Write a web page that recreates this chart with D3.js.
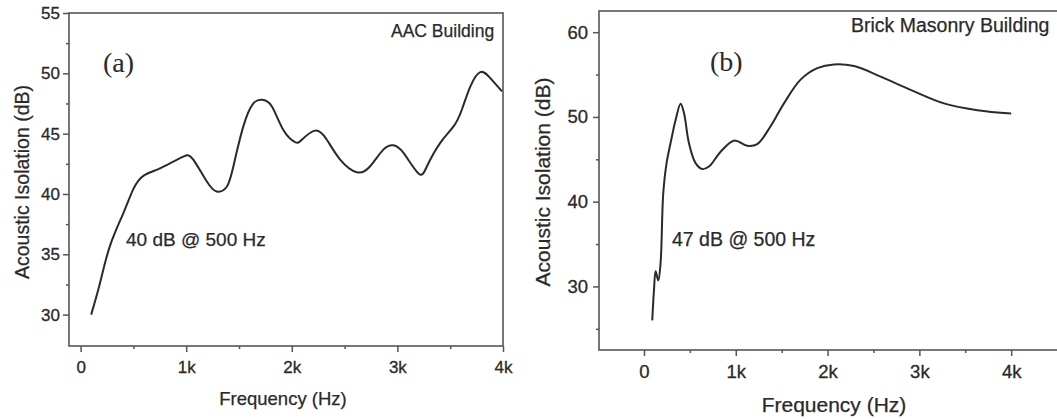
<!DOCTYPE html>
<html>
<head>
<meta charset="utf-8">
<script src="https://cdn.jsdelivr.net/npm/d3@7"></script>
<style>
  body { margin: 0; background: #fff; }
  svg { display: block; font-family: "Liberation Sans", Arial, sans-serif; }
</style>
</head>
<body>
<svg id="chart" width="1057" height="419"></svg>
<script>
// (a) AAC building
var aacFreq = [100, 183, 278, 404, 499, 594, 720, 815, 973, 1067, 1194, 1289, 1384, 1447, 1541, 1636, 1716, 1810, 1920, 2031, 2095, 2221, 2332, 2458, 2616, 2742, 2869, 2963, 3058, 3200, 3280, 3406, 3532, 3611, 3690, 3785, 3880, 3990];
var aacDb = [30.0, 32.6, 35.7, 38.4, 40.4, 41.5, 42.0, 42.4, 43.1, 42.85, 41.05, 40.2, 40.6, 42.3, 45.6, 47.5, 47.8, 47.27, 45.3, 44.3, 44.5, 45.25, 44.5, 42.85, 41.8, 42.3, 43.7, 44.04, 43.4, 41.7, 42.3, 44.24, 45.6, 47.0, 48.9, 50.1, 49.6, 48.5];

// (b) brick masonry building
var brickFreq = [90, 109, 127, 156, 181, 210, 246, 297, 345, 399, 436, 490, 562, 635, 708, 835, 980, 1125, 1234, 1379, 1525, 1706, 1888, 2070, 2288, 2578, 2904, 3268, 3631, 4000];
var brickDb = [26.0, 29.6, 31.8, 30.7, 32.8, 41.0, 44.55, 47.3, 49.66, 51.55, 50.45, 46.9, 44.55, 43.85, 44.15, 45.9, 47.2, 46.6, 46.8, 48.9, 51.6, 54.4, 55.75, 56.2, 56.0, 54.76, 53.2, 51.6, 50.8, 50.4];

var freqTicks = [0, 1000, 2000, 3000, 4000];
var freqTickLabels = ["0", "1k", "2k", "3k", "4k"];
var freqMinor = [500, 1500, 2500, 3500];
var aacTicks = [30, 35, 40, 45, 50, 55];
var aacMinor = [32.5, 37.5, 42.5, 47.5, 52.5];
var brickTicks = [30, 40, 50, 60];
var brickMinor = [25, 35, 45, 55];

var svg = d3.select("#chart");
var ink = "#2a2a2a";
var frameColor = "#555";

function panel(opt) {
  var x = d3.scaleLinear().domain(opt.xDomain).range([opt.left, opt.right]);
  var y = d3.scaleLinear().domain(opt.yDomain).range([opt.bottom, opt.top]);
  var g = svg.append("g");

  // minor ticks
  g.append("g").attr("transform", "translate(0," + opt.bottom + ")")
    .call(d3.axisBottom(x).tickValues(freqMinor).tickSize(3).tickFormat(""))
    .call(function(s) { s.select(".domain").remove(); });
  g.append("g").attr("transform", "translate(" + opt.left + ",0)")
    .call(d3.axisLeft(y).tickValues(opt.yMinor).tickSize(3).tickFormat(""))
    .call(function(s) { s.select(".domain").remove(); });

  // major ticks
  g.append("g").attr("transform", "translate(0," + opt.bottom + ")")
    .call(d3.axisBottom(x).tickValues(freqTicks).tickSize(6).tickPadding(opt.xPad)
      .tickFormat(function(d, i) { return freqTickLabels[i]; }))
    .call(function(s) { s.select(".domain").remove(); })
    .selectAll("text").attr("font-size", opt.tickFont).attr("fill", ink)
    .attr("stroke", ink).attr("stroke-width", 0.3)
    .attr("font-family", "Liberation Sans, Arial, sans-serif");
  g.append("g").attr("transform", "translate(" + opt.left + ",0)")
    .call(d3.axisLeft(y).tickValues(opt.yTicks).tickSize(6).tickPadding(opt.yPad))
    .call(function(s) { s.select(".domain").remove(); })
    .selectAll("text").attr("font-size", opt.tickFont).attr("fill", ink)
    .attr("stroke", ink).attr("stroke-width", 0.3)
    .attr("font-family", "Liberation Sans, Arial, sans-serif");

  g.selectAll(".tick line").attr("stroke", frameColor).attr("stroke-width", 1.5);

  // frame
  g.append("rect")
    .attr("x", opt.left).attr("y", opt.top)
    .attr("width", opt.right - opt.left).attr("height", opt.bottom - opt.top)
    .attr("fill", "none").attr("stroke", frameColor).attr("stroke-width", 1.6);

  // curve
  var line = d3.line()
    .x(function(d) { return x(d[0]); })
    .y(function(d) { return y(d[1]); })
    .curve(opt.curve);
  g.append("path")
    .datum(d3.zip(opt.freq, opt.db))
    .attr("d", line)
    .attr("fill", "none").attr("stroke", ink).attr("stroke-width", 2);

  // axis titles
  g.append("text")
    .attr("x", opt.xTitle[0]).attr("y", opt.xTitle[1])
    .attr("text-anchor", "middle").attr("font-size", opt.titleFont).attr("fill", ink)
    .attr("stroke", ink).attr("stroke-width", 0.25)
    .text("Frequency (Hz)");
  g.append("text")
    .attr("transform", "translate(" + opt.yTitle[0] + "," + opt.yTitle[1] + ") rotate(-90)")
    .attr("text-anchor", "middle").attr("font-size", opt.yTitleFont).attr("fill", ink)
    .attr("stroke", ink).attr("stroke-width", 0.25)
    .text("Acoustic Isolation (dB)");

  // annotations
  g.append("text")
    .attr("x", opt.name[0]).attr("y", opt.name[1])
    .attr("font-size", opt.nameFont).attr("fill", ink)
    .attr("stroke", ink).attr("stroke-width", 0.25)
    .text(opt.nameText);
  g.append("text")
    .attr("x", opt.tag[0]).attr("y", opt.tag[1])
    .attr("font-family", "Liberation Serif, Times New Roman, serif")
    .attr("font-size", 28).attr("fill", ink)
    .text(opt.tagText);
  g.append("text")
    .attr("x", opt.note[0]).attr("y", opt.note[1])
    .attr("font-size", opt.noteFont).attr("fill", ink)
    .attr("stroke", ink).attr("stroke-width", 0.25)
    .text(opt.noteText);
}

panel({
  freq: aacFreq, db: aacDb, curve: d3.curveNatural,
  xDomain: [-110, 4000], yDomain: [27.4, 55],
  left: 69, right: 503, top: 13, bottom: 346,
  yTicks: aacTicks, yMinor: aacMinor,
  tickFont: 17, xPad: 9, yPad: 3,
  xTitle: [283, 405], yTitle: [29, 182], titleFont: 18.5, yTitleFont: 19.5,
  name: [391, 37], nameText: "AAC Building", nameFont: 17.5,
  tag: [103, 72], tagText: "(a)",
  note: [126, 246], noteText: "40 dB @ 500 Hz", noteFont: 19
});

panel({
  freq: brickFreq, db: brickDb, curve: d3.curveCatmullRom.alpha(0.5),
  xDomain: [-490, 4510], yDomain: [22.5, 62.5],
  left: 599, right: 1058, top: 11, bottom: 350,
  yTicks: brickTicks, yMinor: brickMinor,
  tickFont: 18.5, xPad: 8.5, yPad: 5,
  xTitle: [834, 412], yTitle: [550, 182], titleFont: 21, yTitleFont: 21,
  name: [851, 32], nameText: "Brick Masonry Building", nameFont: 19.5,
  tag: [710, 71], tagText: "(b)",
  note: [672, 246], noteText: "47 dB @ 500 Hz", noteFont: 19.5
});
</script>
</body>
</html>
